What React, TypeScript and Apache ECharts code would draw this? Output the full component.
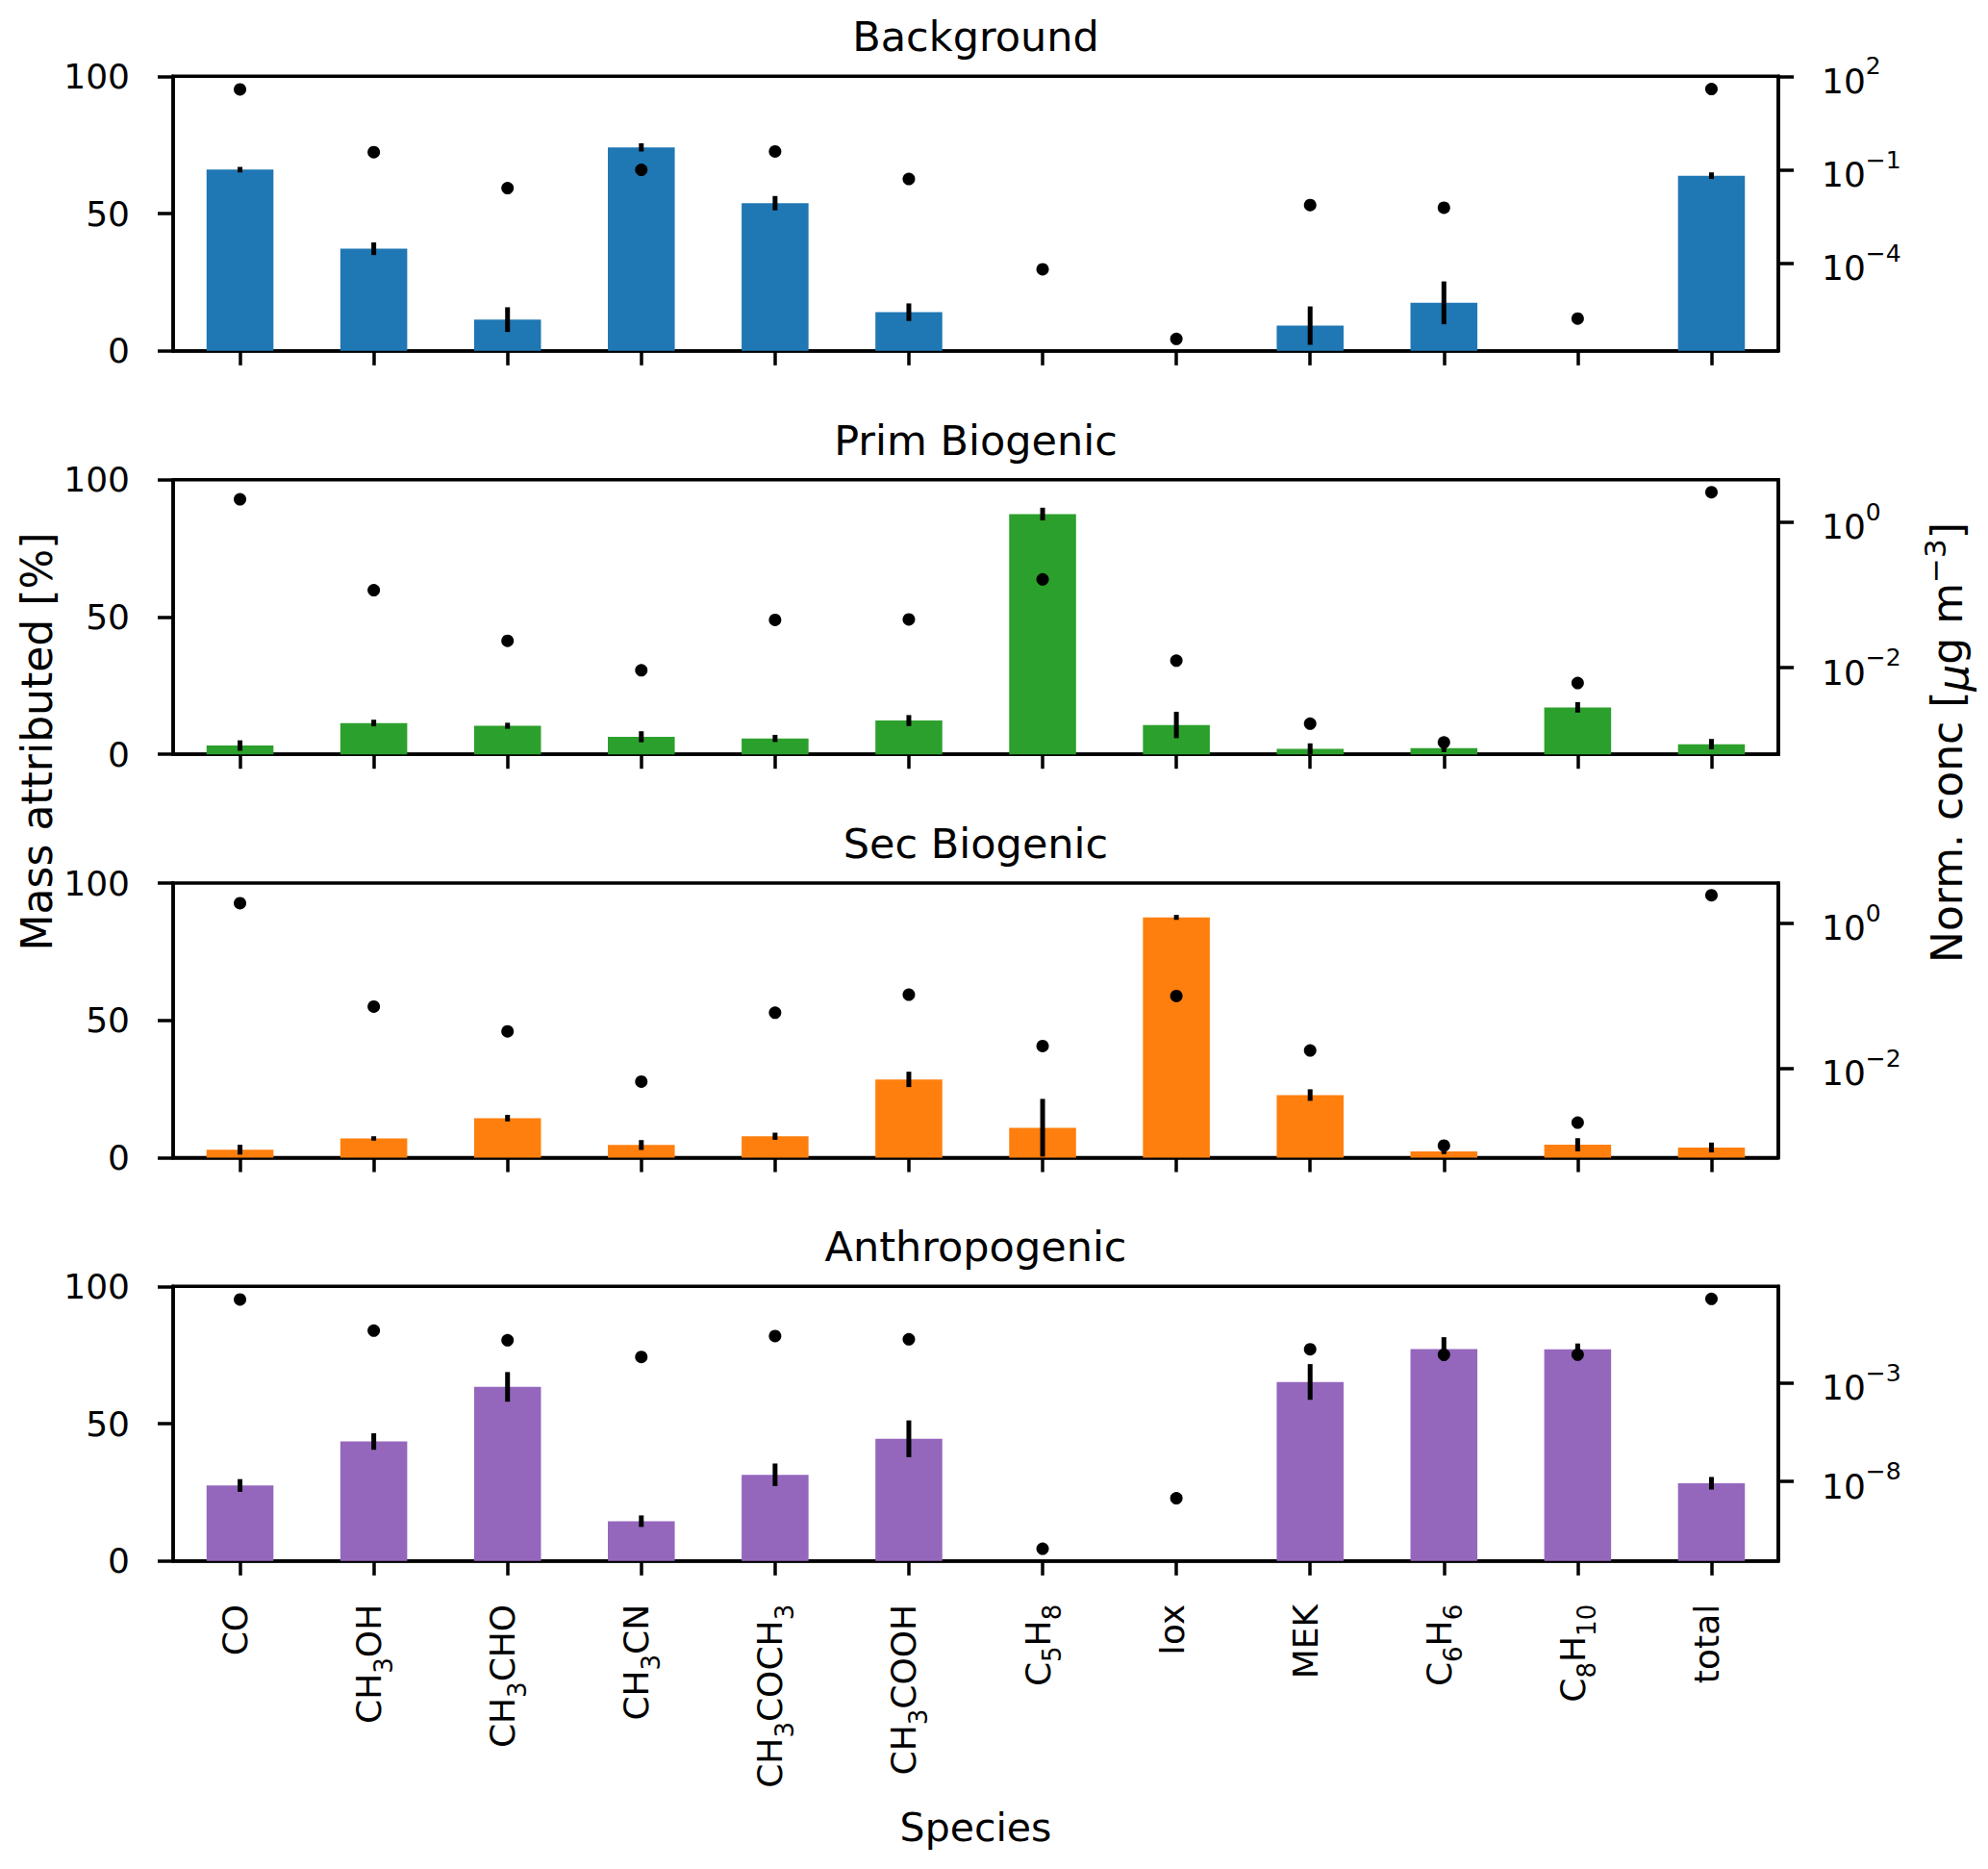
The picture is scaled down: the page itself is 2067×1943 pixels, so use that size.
import React, { useEffect, useRef } from 'react';
import * as echarts from 'echarts';

// species on the x axis (unicode subscripts, drawn as real subscripts by the label formatter)
const species = ['CO', 'CH₃OH', 'CH₃CHO', 'CH₃CN', 'CH₃COCH₃', 'CH₃COOH', 'C₅H₈', 'Iox', 'MEK', 'C₆H₆', 'C₈H₁₀', 'total'];

// mass attributed [%], its error, and normalised concentration [ug m-3]
const backgroundMass = [66, 37.2, 11.4, 74.1, 53.8, 14.1, 0, 0, 9.2, 17.5, 0, 63.8];
const backgroundErr = [1, 2.3, 4.5, 1.5, 2.6, 3.2, 0, 0, 7, 7.8, 0, 1.2];
const backgroundConc = [38, 0.37, 0.026, 0.1, 0.39, 0.051, 6.5e-5, 3.8e-7, 0.0074, 0.0061, 1.7e-6, 39];

const primMass = [3.2, 11.4, 10.4, 6.4, 5.8, 12.3, 87.5, 10.7, 2.0, 2.3, 17.1, 3.7];
const primErr = [1.9, 1.2, 1.1, 2, 1.3, 2, 2.3, 4.8, 2, 1.5, 1.9, 1.9];
const primConc = [2.05, 0.116, 0.0234, 0.0092, 0.0453, 0.046, 0.163, 0.0125, 0.0017, 0.00094, 0.00615, 2.57];

const secMass = [2.9, 7.0, 14.4, 4.6, 7.8, 28.5, 10.9, 87.5, 22.8, 2.3, 4.7, 3.7];
const secErr = [1.8, 0.8, 1.2, 1.8, 1.3, 2.8, 10.5, 0.9, 2.1, 1, 2.4, 1.8];
const secConc = [1.88, 0.071, 0.0325, 0.0066, 0.0586, 0.1036, 0.0204, 0.0995, 0.0177, 0.00087, 0.0018, 2.42];

const anthMass = [27.5, 43.5, 63.4, 14.5, 31.4, 44.5, 0, 0, 65.2, 77.2, 77.1, 28.3];
const anthErr = [2.3, 3, 5.4, 2.1, 4.1, 6.7, 0, 0, 6.5, 4.3, 2.1, 2.3];
const anthConc = [17.2, 0.45, 0.147, 0.0208, 0.239, 0.164, 3.8e-12, 1.4e-9, 0.051, 0.027, 0.027, 18.5];

// right (log) axis: range in decades and the decades that get a tick
const panelTitles = ['Background', 'Prim Biogenic', 'Sec Biogenic', 'Anthropogenic'];
const logMin = [-6.805, -3.19, -3.227, -12.04];
const logMax = [2, 0.581, 0.552, 1.9];
const logTicks = [[2, -1, -4], [0, -2], [0, -2], [-3, -8]];

const panels = [
  { mass: backgroundMass, err: backgroundErr, conc: backgroundConc, color: '#1f77b4' },
  { mass: primMass, err: primErr, conc: primConc, color: '#2ca02c' },
  { mass: secMass, err: secErr, conc: secConc, color: '#ff7f0e' },
  { mass: anthMass, err: anthErr, conc: anthConc, color: '#9467bd' },
];

const FONT = 'DejaVu Sans';
const tops = [79.3, 498.7, 918, 1337.3];
const PH = 285.5;
const LEFT = 180;
const RIGHT = 2067 - 1849;

const SUB: Record<string, string> = { '₀': '0', '₁': '1', '₃': '3', '₅': '5', '₆': '6', '₈': '8' };

// turn unicode subscript runs into rich-text tokens
const subLabel = (name: string) => {
  let out = '';
  let run = '';
  for (const ch of name) {
    if (SUB[ch]) {
      run += SUB[ch];
    } else {
      if (run) { out += `{s|${run}}`; run = ''; }
      out += ch;
    }
  }
  if (run) out += `{s|${run}}`;
  return out.replace(/([^{}|]+)(?=\{|$)/g, (m, g, off, str) => {
    // plain segments outside tokens get the base style
    const before = str.slice(0, off);
    const open = before.lastIndexOf('{');
    const close = before.lastIndexOf('}');
    if (open > close) return m;
    return `{b|${g}}`;
  });
};

const App: React.FC = () => {
  const chartRef = useRef<HTMLDivElement>(null);

  useEffect(() => {
    if (!chartRef.current) return;
    const chart = echarts.init(chartRef.current, null, { renderer: 'svg' });

    const grid: any[] = [];
    const xAxis: any[] = [];
    const yAxis: any[] = [];
    const series: any[] = [];
    const graphic: any[] = [];

    panels.forEach((p, i) => {
      grid.push({
        left: LEFT, right: RIGHT, top: tops[i], height: PH,
        show: true, borderColor: '#000', borderWidth: 3.5, backgroundColor: 'transparent',
      });
      xAxis.push({
        type: 'category',
        gridIndex: i,
        data: species,
        axisLine: { show: true, lineStyle: { color: '#000', width: 3.5 } },
        axisTick: { show: true, alignWithLabel: true, length: 15, lineStyle: { color: '#000', width: 3.5 } },
        axisLabel: {
          show: i === 3, rotate: 90, margin: 45, color: '#000', fontSize: 36, fontFamily: FONT,
          formatter: (v: string) => subLabel(v),
          rich: {
            b: { fontSize: 36, fontFamily: FONT, color: '#000', lineHeight: 46, verticalAlign: 'top' },
            s: { fontSize: 26, fontFamily: FONT, color: '#000', lineHeight: 26, verticalAlign: 'bottom' },
          },
        },
        splitLine: { show: false },
      });
      yAxis.push({
        type: 'value',
        gridIndex: i,
        min: 0, max: 100, interval: 50,
        axisLine: { show: true, lineStyle: { color: '#000', width: 3.5 } },
        axisTick: { show: true, length: 16, lineStyle: { color: '#000', width: 3.5 } },
        axisLabel: { color: '#000', fontSize: 36, fontFamily: FONT, margin: 45 },
        splitLine: { show: false },
      });
      yAxis.push({
        type: 'value',
        gridIndex: i,
        position: 'right',
        min: logMin[i], max: logMax[i],
        axisLine: { show: true, lineStyle: { color: '#000', width: 3.5 } },
        axisTick: { show: true, length: 16, customValues: logTicks[i], lineStyle: { color: '#000', width: 3.5 } },
        axisLabel: {
          customValues: logTicks[i],
          margin: 45,
          color: '#000',
          fontFamily: FONT,
          formatter: (v: number) => `{b|10}{s|${v < 0 ? '−' + Math.abs(Math.round(v)) : Math.round(v)}}`,
          rich: {
            b: { fontSize: 36, fontFamily: FONT, color: '#000', lineHeight: 46, verticalAlign: 'bottom' },
            s: { fontSize: 25, fontFamily: FONT, color: '#000', lineHeight: 25, verticalAlign: 'top' },
          },
        },
        splitLine: { show: false },
      });

      series.push({
        type: 'bar',
        xAxisIndex: i,
        yAxisIndex: i * 2,
        data: p.mass,
        barWidth: '50%',
        itemStyle: { color: p.color },
        z: 2,
      });
      series.push({
        type: 'custom',
        xAxisIndex: i,
        yAxisIndex: i * 2,
        data: p.mass.map((m, j) => [j, m - p.err[j], m + p.err[j]]),
        encode: { x: 0, y: [1, 2] },
        renderItem: (params: any, api: any) => {
          const lo = api.value(1);
          const hi = api.value(2);
          if (hi - lo <= 0) return null;
          const a = api.coord([api.value(0), Math.max(lo, 0)]);
          const b = api.coord([api.value(0), hi]);
          return {
            type: 'line',
            shape: { x1: a[0], y1: a[1], x2: b[0], y2: b[1] },
            style: { stroke: '#000', lineWidth: 5 },
          };
        },
        z: 3,
      });
      series.push({
        type: 'scatter',
        xAxisIndex: i,
        yAxisIndex: i * 2 + 1,
        data: p.conc.map((c) => Math.log10(c)),
        symbol: 'circle',
        symbolSize: 13,
        itemStyle: { color: '#000', opacity: 1 },
        z: 4,
      });

      graphic.push({
        type: 'text',
        x: (LEFT + 1849) / 2,
        y: tops[i] - 41,
        style: {
          text: panelTitles[i], font: `43px "${FONT}"`, fill: '#000',
          align: 'center', verticalAlign: 'middle', textAlign: 'center', textVerticalAlign: 'middle',
        },
      });
    });

    graphic.push({
      type: 'text',
      x: (LEFT + 1849) / 2,
      y: 1900,
      style: {
        text: 'Species', font: `41px "${FONT}"`, fill: '#000',
        align: 'center', verticalAlign: 'middle', textAlign: 'center', textVerticalAlign: 'middle',
      },
    });
    graphic.push({
      type: 'text',
      x: 38,
      y: 771,
      rotation: Math.PI / 2,
      style: {
        text: 'Mass attributed [%]', font: `44px "${FONT}"`, fill: '#000',
        align: 'center', verticalAlign: 'middle', textAlign: 'center', textVerticalAlign: 'middle',
      },
    });
    graphic.push({
      type: 'text',
      x: 2024,
      y: 772,
      rotation: Math.PI / 2,
      style: {
        text: 'Norm. conc [{i|μ}g m{s|−3}]',
        font: `44px "${FONT}"`, fill: '#000',
        align: 'center', verticalAlign: 'middle', textAlign: 'center', textVerticalAlign: 'middle',
        rich: {
          i: { fontSize: 44, fontFamily: FONT, fontStyle: 'italic', fill: '#000', lineHeight: 56, verticalAlign: 'bottom' },
          s: { fontSize: 31, fontFamily: FONT, fill: '#000', lineHeight: 31, verticalAlign: 'top' },
        },
      },
    });

    chart.setOption({
      animation: false,
      backgroundColor: '#fff',
      grid,
      xAxis,
      yAxis,
      series,
      graphic,
    });

    return () => {
      chart.dispose();
    };
  }, []);

  return (
    <div
      ref={chartRef}
      style={{ position: 'fixed', left: 0, top: 0, width: '2067px', height: '1943px' }}
    />
  );
};

export default App;
